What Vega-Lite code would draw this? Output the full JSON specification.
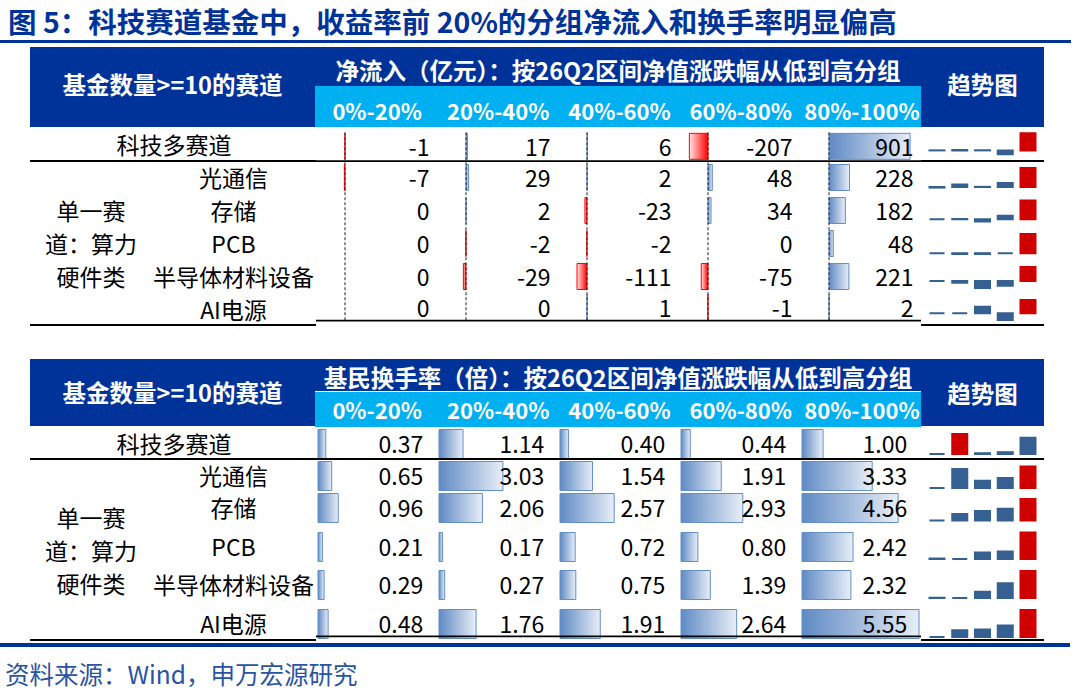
{
  "$schema": "https://vega.github.io/schema/vega-lite/v6.json",
  "padding": 0,
  "background": "white",
  "spacing": 0,
  "config": {
    "view": {"stroke": null},
    "font": "Noto Sans CJK SC",
    "concat": {"spacing": 0},
    "facet": {"spacing": 0}
  },
  "datasets": {
    "t1": [
      {"ri": 1, "grp": "0%-20%", "value": -1}, {"ri": 1, "grp": "20%-40%", "value": 17}, {"ri": 1, "grp": "40%-60%", "value": 6}, {"ri": 1, "grp": "60%-80%", "value": -207}, {"ri": 1, "grp": "80%-100%", "value": 901},
      {"ri": 2, "grp": "0%-20%", "value": -7}, {"ri": 2, "grp": "20%-40%", "value": 29}, {"ri": 2, "grp": "40%-60%", "value": 2}, {"ri": 2, "grp": "60%-80%", "value": 48}, {"ri": 2, "grp": "80%-100%", "value": 228},
      {"ri": 3, "grp": "0%-20%", "value": 0}, {"ri": 3, "grp": "20%-40%", "value": 2}, {"ri": 3, "grp": "40%-60%", "value": -23}, {"ri": 3, "grp": "60%-80%", "value": 34}, {"ri": 3, "grp": "80%-100%", "value": 182},
      {"ri": 4, "grp": "0%-20%", "value": 0}, {"ri": 4, "grp": "20%-40%", "value": -2}, {"ri": 4, "grp": "40%-60%", "value": -2}, {"ri": 4, "grp": "60%-80%", "value": 0}, {"ri": 4, "grp": "80%-100%", "value": 48},
      {"ri": 5, "grp": "0%-20%", "value": 0}, {"ri": 5, "grp": "20%-40%", "value": -29}, {"ri": 5, "grp": "40%-60%", "value": -111}, {"ri": 5, "grp": "60%-80%", "value": -75}, {"ri": 5, "grp": "80%-100%", "value": 221},
      {"ri": 6, "grp": "0%-20%", "value": 0}, {"ri": 6, "grp": "20%-40%", "value": 0}, {"ri": 6, "grp": "40%-60%", "value": 1}, {"ri": 6, "grp": "60%-80%", "value": -1}, {"ri": 6, "grp": "80%-100%", "value": 2}
    ],
    "t2": [
      {"ri": 1, "grp": "0%-20%", "value": 0.37}, {"ri": 1, "grp": "20%-40%", "value": 1.14}, {"ri": 1, "grp": "40%-60%", "value": 0.40}, {"ri": 1, "grp": "60%-80%", "value": 0.44}, {"ri": 1, "grp": "80%-100%", "value": 1.00},
      {"ri": 2, "grp": "0%-20%", "value": 0.65}, {"ri": 2, "grp": "20%-40%", "value": 3.03}, {"ri": 2, "grp": "40%-60%", "value": 1.54}, {"ri": 2, "grp": "60%-80%", "value": 1.91}, {"ri": 2, "grp": "80%-100%", "value": 3.33},
      {"ri": 3, "grp": "0%-20%", "value": 0.96}, {"ri": 3, "grp": "20%-40%", "value": 2.06}, {"ri": 3, "grp": "40%-60%", "value": 2.57}, {"ri": 3, "grp": "60%-80%", "value": 2.93}, {"ri": 3, "grp": "80%-100%", "value": 4.56},
      {"ri": 4, "grp": "0%-20%", "value": 0.21}, {"ri": 4, "grp": "20%-40%", "value": 0.17}, {"ri": 4, "grp": "40%-60%", "value": 0.72}, {"ri": 4, "grp": "60%-80%", "value": 0.80}, {"ri": 4, "grp": "80%-100%", "value": 2.42},
      {"ri": 5, "grp": "0%-20%", "value": 0.29}, {"ri": 5, "grp": "20%-40%", "value": 0.27}, {"ri": 5, "grp": "40%-60%", "value": 0.75}, {"ri": 5, "grp": "60%-80%", "value": 1.39}, {"ri": 5, "grp": "80%-100%", "value": 2.32},
      {"ri": 6, "grp": "0%-20%", "value": 0.48}, {"ri": 6, "grp": "20%-40%", "value": 1.76}, {"ri": 6, "grp": "40%-60%", "value": 1.91}, {"ri": 6, "grp": "60%-80%", "value": 2.64}, {"ri": 6, "grp": "80%-100%", "value": 5.55}
    ],
    "labels": [
      {"ri": 1, "kind": "top", "label": "科技多赛道"},
      {"ri": 2, "kind": "sub", "label": "光通信"},
      {"ri": 3, "kind": "sub", "label": "存储"},
      {"ri": 4, "kind": "sub", "label": "PCB"},
      {"ri": 5, "kind": "sub", "label": "半导体材料设备"},
      {"ri": 6, "kind": "sub", "label": "AI电源"},
      {"ri": 4, "kind": "group", "label": ["单一赛", "道：算力", "硬件类"]}
    ],
    "groups": [{"g": "0%-20%"}, {"g": "20%-40%"}, {"g": "40%-60%"}, {"g": "60%-80%"}, {"g": "80%-100%"}]
  },
  "vconcat": [
    {"width": 16, "height": 40, "data": {"values": [{}]},
     "mark": {"type": "text", "align": "left", "baseline": "middle", "fontSize": 28.5, "fontWeight": "bold", "color": "#003399", "dy": 4},
     "encoding": {"text": {"value": "图 5：科技赛道基金中，收益率前 20%的分组净流入和换手率明显偏高"}}},
    {"width": 1071, "height": 3, "view": {"fill": "#003399", "stroke": null}, "data": {"values": []}, "mark": "point"},
    {"width": 1, "height": 4, "data": {"values": []}, "mark": "point"},
    {"hconcat": [
      {"width": 30, "height": 1, "data": {"values": []}, "mark": "point"},
      {"vconcat": [
        {"hconcat": [
          {"width": 285, "height": 80, "view": {"fill": "#003399", "stroke": null}, "data": {"values": [{}]},
           "mark": {"type": "text", "baseline": "middle", "fontSize": 23.5, "fontWeight": "bold", "color": "white", "dy": 0},
           "encoding": {"text": {"value": "基金数量>=10的赛道"}}},
          {"vconcat": [
            {"width": 606, "height": 39, "view": {"fill": "#003399", "stroke": null}, "data": {"values": [{}]},
             "mark": {"type": "text", "baseline": "middle", "fontSize": 23.5, "fontWeight": "bold", "color": "white", "dy": 6},
             "encoding": {"text": {"value": "净流入（亿元）：按26Q2区间净值涨跌幅从低到高分组"}}},
            {"width": 606, "height": 41, "view": {"fill": "#00B0F0", "stroke": null}, "data": {"name": "groups"},
             "mark": {"type": "text", "baseline": "middle", "fontSize": 22, "fontWeight": "bold", "color": "white", "dy": 6, "dx": 1.5},
             "encoding": {"x": {"field": "g", "type": "nominal", "sort": null, "axis": null}, "text": {"field": "g", "type": "nominal"}}}
          ], "spacing": 0},
          {"width": 123, "height": 80, "view": {"fill": "#003399", "stroke": null}, "data": {"values": [{}]},
           "mark": {"type": "text", "baseline": "middle", "fontSize": 23.5, "fontWeight": "bold", "color": "white", "dy": 0},
           "encoding": {"text": {"value": "趋势图"}}}
        ], "spacing": 0},
        {"hconcat": [
          {"width": 286, "height": 199, "data": {"name": "labels"},
           "layer": [
             {"transform": [{"filter": "datum.kind == 'top'"}],
              "mark": {"type": "text", "baseline": "middle", "fontSize": 23, "color": "#000000", "dx": 1, "dy": 3},
              "encoding": {"y": {"field": "ri", "type": "quantitative", "axis": null, "scale": {"domain": [0.5, 1.5, 2.5, 3.5, 4.5, 5.5, 6.5], "range": [0, 34, 67, 100, 133, 166, 199], "zero": false, "nice": false}}, "text": {"field": "label", "type": "nominal"}}},
             {"transform": [{"filter": "datum.kind == 'sub'"}],
              "mark": {"type": "text", "baseline": "middle", "fontSize": 23, "color": "#000000", "dx": 60.5, "dy": 2.5},
              "encoding": {"y": {"field": "ri", "type": "quantitative", "axis": null}, "text": {"field": "label", "type": "nominal"}}},
             {"transform": [{"filter": "datum.kind == 'group'"}],
              "mark": {"type": "text", "baseline": "middle", "fontSize": 23, "color": "#000000", "dx": -82, "dy": -30.6, "lineHeight": 33},
              "encoding": {"y": {"field": "ri", "type": "quantitative", "axis": null}, "text": {"field": "label", "type": "nominal"}}},
             {"transform": [{"filter": "datum.ri == 1"}],
              "mark": {"type": "rect", "color": "#000000"},
              "encoding": {"y": {"datum": 1.4706, "type": "quantitative"}, "y2": {"datum": 1.5303}}},
             {"transform": [{"filter": "datum.ri == 1"}],
              "mark": {"type": "rect", "color": "#000000"},
              "encoding": {"y": {"datum": 6.4394, "type": "quantitative"}, "y2": {"datum": 6.5}}}
           ]},
          {"data": {"name": "t1"},
           "facet": {"column": {"field": "grp", "type": "nominal", "header": null}},
           "spacing": 0,
           "spec": {
             "width": 121, "height": 199,
             "layer": [
               {"transform": [{"filter": "datum.value != 0"}],
                "mark": {"type": "bar", "orient": "horizontal", "strokeWidth": 1},
                "encoding": {
                  "x": {"field": "value", "type": "quantitative", "axis": null, "scale": {"domain": [-207, 901], "range": [2, 119]}},
                  "y": {"field": "ri", "type": "quantitative", "axis": null, "scale": {"domain": [0.5, 1.5, 2.5, 3.5, 4.5, 5.5, 6.5], "range": [0, 34, 67, 100, 133, 166, 199], "zero": false, "nice": false}},
                  "size": {"value": 26},
                  "fill": {"condition": {"test": "datum.value < 0", "value": {"gradient": "linear", "x1": 0, "y1": 0, "x2": 1, "y2": 0, "stops": [{"offset": 0, "color": "#FFE4E4"}, {"offset": 1, "color": "#FF0000"}]}},
                           "value": {"gradient": "linear", "x1": 0, "y1": 0, "x2": 1, "y2": 0, "stops": [{"offset": 0, "color": "#5F8AC4"}, {"offset": 1, "color": "#E8EEF7"}]}},
                  "stroke": {"condition": {"test": "datum.value < 0", "value": "#FF0000"}, "value": "#638EC6"}
                }},
               {"mark": {"type": "text", "align": "right", "baseline": "middle", "fontSize": 23, "color": "#000000", "dx": 53, "dy": 2.5},
                "encoding": {
                  "y": {"field": "ri", "type": "quantitative", "axis": null},
                  "text": {"field": "value", "type": "nominal"}}},
               {"transform": [{"filter": "datum.ri == 1"}],
                "mark": {"type": "rule", "color": "#222222", "strokeWidth": 1, "strokeDash": [3, 2]},
                "encoding": {"x": {"datum": 0, "type": "quantitative"}, "y": {"datum": 0.52, "type": "quantitative"}, "y2": {"datum": 6.48}}},
               {"transform": [{"filter": "datum.ri == 1"}],
                "mark": {"type": "rect", "color": "#000000"},
                "encoding": {"y": {"datum": 1.4706, "type": "quantitative"}, "y2": {"datum": 1.5303}}},
               {"transform": [{"filter": "datum.ri == 1"}],
                "mark": {"type": "rect", "color": "#000000"},
                "encoding": {"y": {"datum": 6.4394, "type": "quantitative"}, "y2": {"datum": 6.5}}}
             ]
           }},
          {"vconcat": [
            {"width": 123, "height": 33, "data": {"name": "t1"},
             "transform": [{"filter": "datum.ri == 1"}, {"joinaggregate": [{"op": "max", "field": "value", "as": "vmax"}]}],
             "mark": {"type": "bar", "strokeWidth": 2},
             "encoding": {
               "x": {"field": "grp", "type": "nominal", "sort": null, "axis": null, "scale": {"paddingInner": 0.34, "paddingOuter": 0.3735}},
               "y": {"field": "value", "type": "quantitative", "axis": null, "scale": {"range": [27.3, 6.3], "nice": false}},
               "fill": {"condition": {"test": "datum.value == datum.vmax", "value": "#D00000"}, "value": "#376092"},
               "stroke": {"condition": {"test": "datum.value == datum.vmax", "value": "#D00000"}, "value": "#376092"}}},
            {"width": 123, "height": 2, "view": {"fill": "#000000", "stroke": null}, "data": {"values": []}, "mark": "point"},
            {"width": 123, "height": 32, "data": {"name": "t1"},
             "transform": [{"filter": "datum.ri == 2"}, {"joinaggregate": [{"op": "max", "field": "value", "as": "vmax"}]}],
             "mark": {"type": "bar", "strokeWidth": 2},
             "encoding": {
               "x": {"field": "grp", "type": "nominal", "sort": null, "axis": null, "scale": {"paddingInner": 0.34, "paddingOuter": 0.3735}},
               "y": {"field": "value", "type": "quantitative", "axis": null, "scale": {"range": [25.6, 6], "nice": false}},
               "fill": {"condition": {"test": "datum.value == datum.vmax", "value": "#D00000"}, "value": "#376092"},
               "stroke": {"condition": {"test": "datum.value == datum.vmax", "value": "#D00000"}, "value": "#376092"}}},
            {"width": 123, "height": 33, "data": {"name": "t1"},
             "transform": [{"filter": "datum.ri == 3"}, {"joinaggregate": [{"op": "max", "field": "value", "as": "vmax"}]}],
             "mark": {"type": "bar", "strokeWidth": 2},
             "encoding": {
               "x": {"field": "grp", "type": "nominal", "sort": null, "axis": null, "scale": {"paddingInner": 0.34, "paddingOuter": 0.3735}},
               "y": {"field": "value", "type": "quantitative", "axis": null, "scale": {"range": [27.5, 6.5], "nice": false}},
               "fill": {"condition": {"test": "datum.value == datum.vmax", "value": "#D00000"}, "value": "#376092"},
               "stroke": {"condition": {"test": "datum.value == datum.vmax", "value": "#D00000"}, "value": "#376092"}}},
            {"width": 123, "height": 33, "data": {"name": "t1"},
             "transform": [{"filter": "datum.ri == 4"}, {"joinaggregate": [{"op": "max", "field": "value", "as": "vmax"}]}],
             "mark": {"type": "bar", "strokeWidth": 2},
             "encoding": {
               "x": {"field": "grp", "type": "nominal", "sort": null, "axis": null, "scale": {"paddingInner": 0.34, "paddingOuter": 0.3735}},
               "y": {"field": "value", "type": "quantitative", "axis": null, "scale": {"range": [27, 7], "nice": false}},
               "fill": {"condition": {"test": "datum.value == datum.vmax", "value": "#D00000"}, "value": "#376092"},
               "stroke": {"condition": {"test": "datum.value == datum.vmax", "value": "#D00000"}, "value": "#376092"}}},
            {"width": 123, "height": 33, "data": {"name": "t1"},
             "transform": [{"filter": "datum.ri == 5"}, {"joinaggregate": [{"op": "max", "field": "value", "as": "vmax"}]}],
             "mark": {"type": "bar", "strokeWidth": 2},
             "encoding": {
               "x": {"field": "grp", "type": "nominal", "sort": null, "axis": null, "scale": {"paddingInner": 0.34, "paddingOuter": 0.3735}},
               "y": {"field": "value", "type": "quantitative", "axis": null, "scale": {"range": [28, 7], "nice": false}},
               "fill": {"condition": {"test": "datum.value == datum.vmax", "value": "#D00000"}, "value": "#376092"},
               "stroke": {"condition": {"test": "datum.value == datum.vmax", "value": "#D00000"}, "value": "#376092"}}},
            {"width": 123, "height": 31, "data": {"name": "t1"},
             "transform": [{"filter": "datum.ri == 6"}, {"joinaggregate": [{"op": "max", "field": "value", "as": "vmax"}]}],
             "mark": {"type": "bar", "strokeWidth": 2},
             "encoding": {
               "x": {"field": "grp", "type": "nominal", "sort": null, "axis": null, "scale": {"paddingInner": 0.34, "paddingOuter": 0.3735}},
               "y": {"field": "value", "type": "quantitative", "axis": null, "scale": {"range": [27, 7], "nice": false}},
               "fill": {"condition": {"test": "datum.value == datum.vmax", "value": "#D00000"}, "value": "#376092"},
               "stroke": {"condition": {"test": "datum.value == datum.vmax", "value": "#D00000"}, "value": "#376092"}}},
            {"width": 123, "height": 2, "view": {"fill": "#000000", "stroke": null}, "data": {"values": []}, "mark": "point"}
          ], "spacing": 0}
        ], "spacing": 0}
      ], "spacing": 0}
    ], "spacing": 0},
    {"width": 1, "height": 33, "data": {"values": []}, "mark": "point"},
    {"hconcat": [
      {"width": 30, "height": 1, "data": {"values": []}, "mark": "point"},
      {"vconcat": [
        {"hconcat": [
          {"width": 285, "height": 67, "view": {"fill": "#003399", "stroke": null}, "data": {"values": [{}]},
           "mark": {"type": "text", "baseline": "middle", "fontSize": 23.5, "fontWeight": "bold", "color": "white", "dy": 2},
           "encoding": {"text": {"value": "基金数量>=10的赛道"}}},
          {"vconcat": [
            {"width": 606, "height": 32, "view": {"fill": "#003399", "stroke": null}, "data": {"values": [{}]},
             "mark": {"type": "text", "baseline": "middle", "fontSize": 23.5, "fontWeight": "bold", "color": "white", "dy": 5},
             "encoding": {"text": {"value": "基民换手率（倍）：按26Q2区间净值涨跌幅从低到高分组"}}},
            {"width": 606, "height": 35, "view": {"fill": "#00B0F0", "stroke": null}, "data": {"name": "groups"},
             "mark": {"type": "text", "baseline": "middle", "fontSize": 22, "fontWeight": "bold", "color": "white", "dy": 2.5, "dx": 1.5},
             "encoding": {"x": {"field": "g", "type": "nominal", "sort": null, "axis": null}, "text": {"field": "g", "type": "nominal"}}}
          ], "spacing": 0},
          {"width": 123, "height": 67, "view": {"fill": "#003399", "stroke": null}, "data": {"values": [{}]},
           "mark": {"type": "text", "baseline": "middle", "fontSize": 23.5, "fontWeight": "bold", "color": "white", "dy": 3},
           "encoding": {"text": {"value": "趋势图"}}}
        ], "spacing": 0},
        {"hconcat": [
          {"width": 286, "height": 214, "data": {"name": "labels"},
           "layer": [
             {"transform": [{"filter": "datum.kind == 'top'"}],
              "mark": {"type": "text", "baseline": "middle", "fontSize": 23, "color": "#000000", "dx": 1, "dy": 1.5},
              "encoding": {"y": {"field": "ri", "type": "quantitative", "axis": null, "scale": {"domain": [0.5, 1, 1.5, 2, 3, 4, 5, 6, 6.5], "range": [0, 17, 32, 49, 81, 120, 158, 197, 214], "zero": false, "nice": false}}, "text": {"field": "label", "type": "nominal"}}},
             {"transform": [{"filter": "datum.kind == 'sub'"}],
              "mark": {"type": "text", "baseline": "middle", "fontSize": 23, "color": "#000000", "dx": 60.5, "dy": 1.5},
              "encoding": {"y": {"field": "ri", "type": "quantitative", "axis": null}, "text": {"field": "label", "type": "nominal"}}},
             {"transform": [{"filter": "datum.kind == 'group'"}],
              "mark": {"type": "text", "baseline": "middle", "fontSize": 23, "color": "#000000", "dx": -82, "dy": -27, "lineHeight": 33},
              "encoding": {"y": {"field": "ri", "type": "quantitative", "axis": null}, "text": {"field": "label", "type": "nominal"}}},
             {"transform": [{"filter": "datum.ri == 1"}],
              "mark": {"type": "rect", "color": "#000000"},
              "encoding": {"y": {"datum": 1.4667, "type": "quantitative"}, "y2": {"datum": 1.5294}}},
             {"transform": [{"filter": "datum.ri == 1"}],
              "mark": {"type": "rect", "color": "#000000"},
              "encoding": {"y": {"datum": 6.4412, "type": "quantitative"}, "y2": {"datum": 6.5}}}
           ]},
          {"data": {"name": "t2"},
           "facet": {"column": {"field": "grp", "type": "nominal", "header": null}},
           "spacing": 0,
           "spec": {
             "width": 121, "height": 214,
             "layer": [
               {"mark": {"type": "bar", "orient": "horizontal", "strokeWidth": 1},
                "encoding": {
                  "x": {"field": "value", "type": "quantitative", "axis": null, "scale": {"domain": [0, 5.55], "range": [2, 119]}},
                  "y": {"field": "ri", "type": "quantitative", "axis": null, "scale": {"domain": [0.5, 1, 1.5, 2, 3, 4, 5, 6, 6.5], "range": [0, 17, 32, 49, 81, 120, 158, 197, 214], "zero": false, "nice": false}},
                  "size": {"value": 29},
                  "fill": {"value": {"gradient": "linear", "x1": 0, "y1": 0, "x2": 1, "y2": 0, "stops": [{"offset": 0, "color": "#5F8AC4"}, {"offset": 1, "color": "#E8EEF7"}]}},
                  "stroke": {"value": "#638EC6"}
                }},
               {"mark": {"type": "text", "align": "right", "baseline": "middle", "fontSize": 23, "color": "#000000", "dx": 46.8, "dy": 1.5},
                "encoding": {
                  "y": {"field": "ri", "type": "quantitative", "axis": null},
                  "text": {"field": "value", "type": "quantitative", "format": ".2f"}}},
               {"transform": [{"filter": "datum.ri == 1"}],
                "mark": {"type": "rect", "color": "#000000"},
                "encoding": {"y": {"datum": 1.4667, "type": "quantitative"}, "y2": {"datum": 1.5294}}},
               {"transform": [{"filter": "datum.ri == 1"}],
                "mark": {"type": "rect", "color": "#000000"},
                "encoding": {"y": {"datum": 6.4412, "type": "quantitative"}, "y2": {"datum": 6.5}}}
             ]
           }},
          {"vconcat": [
            {"width": 123, "height": 31, "data": {"name": "t2"},
             "transform": [{"filter": "datum.ri == 1"}, {"joinaggregate": [{"op": "max", "field": "value", "as": "vmax"}, {"op": "min", "field": "value", "as": "vmin"}]}],
             "mark": {"type": "bar", "strokeWidth": 2},
             "encoding": {
               "x": {"field": "grp", "type": "nominal", "sort": null, "axis": null, "scale": {"paddingInner": 0.34, "paddingOuter": 0.3735}},
               "y": {"field": "value", "type": "quantitative", "axis": null, "scale": {"range": [27, 7], "nice": false, "zero": false}},
               "y2": {"field": "vmin"},
               "fill": {"condition": {"test": "datum.value == datum.vmax", "value": "#D00000"}, "value": "#376092"},
               "stroke": {"condition": {"test": "datum.value == datum.vmax", "value": "#D00000"}, "value": "#376092"}}},
            {"width": 123, "height": 2, "view": {"fill": "#000000", "stroke": null}, "data": {"values": []}, "mark": "point"},
            {"width": 123, "height": 32, "data": {"name": "t2"},
             "transform": [{"filter": "datum.ri == 2"}, {"joinaggregate": [{"op": "max", "field": "value", "as": "vmax"}, {"op": "min", "field": "value", "as": "vmin"}]}],
             "mark": {"type": "bar", "strokeWidth": 2},
             "encoding": {
               "x": {"field": "grp", "type": "nominal", "sort": null, "axis": null, "scale": {"paddingInner": 0.34, "paddingOuter": 0.3735}},
               "y": {"field": "value", "type": "quantitative", "axis": null, "scale": {"range": [28, 6.5], "nice": false, "zero": false}},
               "y2": {"field": "vmin"},
               "fill": {"condition": {"test": "datum.value == datum.vmax", "value": "#D00000"}, "value": "#376092"},
               "stroke": {"condition": {"test": "datum.value == datum.vmax", "value": "#D00000"}, "value": "#376092"}}},
            {"width": 123, "height": 33, "data": {"name": "t2"},
             "transform": [{"filter": "datum.ri == 3"}, {"joinaggregate": [{"op": "max", "field": "value", "as": "vmax"}, {"op": "min", "field": "value", "as": "vmin"}]}],
             "mark": {"type": "bar", "strokeWidth": 2},
             "encoding": {
               "x": {"field": "grp", "type": "nominal", "sort": null, "axis": null, "scale": {"paddingInner": 0.34, "paddingOuter": 0.3735}},
               "y": {"field": "value", "type": "quantitative", "axis": null, "scale": {"range": [28.5, 7], "nice": false, "zero": false}},
               "y2": {"field": "vmin"},
               "fill": {"condition": {"test": "datum.value == datum.vmax", "value": "#D00000"}, "value": "#376092"},
               "stroke": {"condition": {"test": "datum.value == datum.vmax", "value": "#D00000"}, "value": "#376092"}}},
            {"width": 123, "height": 38, "data": {"name": "t2"},
             "transform": [{"filter": "datum.ri == 4"}, {"joinaggregate": [{"op": "max", "field": "value", "as": "vmax"}, {"op": "min", "field": "value", "as": "vmin"}]}],
             "mark": {"type": "bar", "strokeWidth": 2},
             "encoding": {
               "x": {"field": "grp", "type": "nominal", "sort": null, "axis": null, "scale": {"paddingInner": 0.34, "paddingOuter": 0.3735}},
               "y": {"field": "value", "type": "quantitative", "axis": null, "scale": {"range": [34, 7.5], "nice": false, "zero": false}},
               "y2": {"field": "vmin"},
               "fill": {"condition": {"test": "datum.value == datum.vmax", "value": "#D00000"}, "value": "#376092"},
               "stroke": {"condition": {"test": "datum.value == datum.vmax", "value": "#D00000"}, "value": "#376092"}}},
            {"width": 123, "height": 39, "data": {"name": "t2"},
             "transform": [{"filter": "datum.ri == 5"}, {"joinaggregate": [{"op": "max", "field": "value", "as": "vmax"}, {"op": "min", "field": "value", "as": "vmin"}]}],
             "mark": {"type": "bar", "strokeWidth": 2},
             "encoding": {
               "x": {"field": "grp", "type": "nominal", "sort": null, "axis": null, "scale": {"paddingInner": 0.34, "paddingOuter": 0.3735}},
               "y": {"field": "value", "type": "quantitative", "axis": null, "scale": {"range": [35, 8], "nice": false, "zero": false}},
               "y2": {"field": "vmin"},
               "fill": {"condition": {"test": "datum.value == datum.vmax", "value": "#D00000"}, "value": "#376092"},
               "stroke": {"condition": {"test": "datum.value == datum.vmax", "value": "#D00000"}, "value": "#376092"}}},
            {"width": 123, "height": 37, "data": {"name": "t2"},
             "transform": [{"filter": "datum.ri == 6"}, {"joinaggregate": [{"op": "max", "field": "value", "as": "vmax"}, {"op": "min", "field": "value", "as": "vmin"}]}],
             "mark": {"type": "bar", "strokeWidth": 2},
             "encoding": {
               "x": {"field": "grp", "type": "nominal", "sort": null, "axis": null, "scale": {"paddingInner": 0.34, "paddingOuter": 0.3735}},
               "y": {"field": "value", "type": "quantitative", "axis": null, "scale": {"range": [35, 8], "nice": false, "zero": false}},
               "y2": {"field": "vmin"},
               "fill": {"condition": {"test": "datum.value == datum.vmax", "value": "#D00000"}, "value": "#376092"},
               "stroke": {"condition": {"test": "datum.value == datum.vmax", "value": "#D00000"}, "value": "#376092"}}},
            {"width": 123, "height": 2, "view": {"fill": "#000000", "stroke": null}, "data": {"values": []}, "mark": "point"}
          ], "spacing": 0}
        ], "spacing": 0}
      ], "spacing": 0}
    ], "spacing": 0},
    {"width": 1, "height": 2, "data": {"values": []}, "mark": "point"},
    {"width": 1070, "height": 4, "view": {"fill": "#003399", "stroke": null}, "data": {"values": []}, "mark": "point"},
    {"width": 10, "height": 46, "data": {"values": [{}]},
     "mark": {"type": "text", "align": "left", "baseline": "middle", "fontSize": 24.5, "color": "#2A54A3", "dy": 7},
     "encoding": {"text": {"value": "资料来源：Wind，申万宏源研究"}}}
  ]
}
